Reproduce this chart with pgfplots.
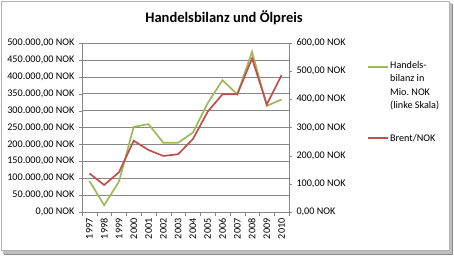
\documentclass[border=0pt]{standalone}
\usepackage{fontspec}
\setmainfont{Carlito}
\usepackage{pgfplots}
\pgfplotsset{compat=1.18}
\definecolor{xlgreen}{HTML}{9BBB59}
\definecolor{xlred}{HTML}{C0504D}
\definecolor{xlgray}{HTML}{868686}
\begin{document}
\begin{tikzpicture}[x=1bp,y=1bp]
\path (0,0) rectangle (454,255);
% frame with shadow
\fill[black!45] (4,0.5) rectangle (453,251);
\fill[black!25] (3,1.5) rectangle (451.5,252);
\fill[white,draw=black!30,line width=0.8bp] (1,5) rectangle (449,254);
\node[font=\fontsize{14.6}{17}\selectfont\bfseries] at (224,237) {Handelsbilanz und Ölpreis};
\begin{axis}[
  at={(82bp,43bp)}, anchor=south west, scale only axis,
  width=207bp, height=169bp,
  xmin=1996.5, xmax=2010.5, ymin=0, ymax=500000,
  axis x line*=bottom, axis y line*=left,
  axis line style={draw=xlgray,-},
  xtick={1997,...,2010},
  xticklabels={1997,1998,1999,2000,2001,2002,2003,2004,2005,2006,2007,2008,2009,2010},
  minor xtick={1996.5,1997.5,...,2010.5},
  major x tick style={draw=none},
  minor x tick style={draw=xlgray},
  minor tick length=4bp,
  major tick length=3bp,
  tick align=outside,
  ytick={0,50000,...,500000},
  yticklabels={{0,00 NOK},{50.000,00 NOK},{100.000,00 NOK},{150.000,00 NOK},{200.000,00 NOK},{250.000,00 NOK},{300.000,00 NOK},{350.000,00 NOK},{400.000,00 NOK},{450.000,00 NOK},{500.000,00 NOK}},
  y tick style={draw=xlgray},
  ymajorgrids, major grid style={draw=xlgray,line width=0.6bp},
  tick label style={font=\fontsize{10.2}{11}\selectfont},
  xticklabel style={rotate=90,anchor=east},
  yticklabel style={xshift=-1bp},
  scaled y ticks=false,
  clip=false,
]
\addplot[xlgreen,line width=1.7bp] coordinates {
(1997,92000) (1998,20000) (1999,90000) (2000,252000) (2001,260000) (2002,205000) (2003,205000) (2004,235000) (2005,322000) (2006,390000) (2007,348000) (2008,474000) (2009,314000) (2010,333000)};
\end{axis}
\begin{axis}[
  at={(82bp,43bp)}, anchor=south west, scale only axis,
  width=207bp, height=169bp,
  xmin=1996.5, xmax=2010.5, ymin=0, ymax=600,
  axis x line=none, axis y line*=right,
  axis line style={draw=xlgray,-},
  ytick={0,100,...,600},
  yticklabels={{0,00 NOK},{100,00 NOK},{200,00 NOK},{300,00 NOK},{400,00 NOK},{500,00 NOK},{600,00 NOK}},
  y tick style={draw=xlgray},
  major tick length=3bp,
  tick align=outside,
  tick label style={font=\fontsize{10.2}{11}\selectfont},
  yticklabel style={anchor=west,xshift=1bp},
]
\addplot[xlred,line width=1.7bp] coordinates {
(1997,137) (1998,96) (1999,141) (2000,253) (2001,220) (2002,199) (2003,205) (2004,259) (2005,356) (2006,418) (2007,418) (2008,545) (2009,382) (2010,486)};
\end{axis}
% legend
\draw[xlgreen,line width=1.7bp] (368,188) -- (388,188);
\node[anchor=north west,inner sep=0pt,align=left,font=\fontsize{10.2}{13.5}\selectfont] at (390,194) {Handels-\\bilanz in\\Mio.\ NOK\\(linke Skala)};
\draw[xlred,line width=1.7bp] (368,117) -- (388,117);
\node[anchor=west,inner sep=0pt,font=\fontsize{10.2}{11}\selectfont] at (390,117) {Brent/NOK};
\end{tikzpicture}
\end{document}
